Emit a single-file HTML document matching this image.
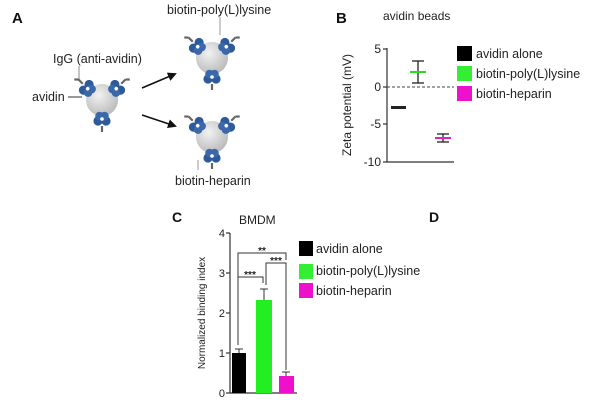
<!DOCTYPE html>
<html><head><style>
html,body{margin:0;padding:0;background:#fff;}
svg{display:block;font-family:"Liberation Sans",Arial,sans-serif;}
</style></head><body>
<svg width="600" height="400" viewBox="0 0 600 400" xmlns="http://www.w3.org/2000/svg">
<defs>
<radialGradient id="bg" cx="0.4" cy="0.35" r="0.7"><stop offset="0" stop-color="#f2f2f2"/><stop offset="1" stop-color="#b8b8b8"/></radialGradient>
<g id="av">
  <circle cx="-4" cy="-1" r="4.6" fill="#2f5a9a"/><circle cx="4" cy="-1" r="4.6" fill="#2f5a9a"/>
  <circle cx="-2.5" cy="4" r="4.3" fill="#3a68aa"/><circle cx="2.5" cy="4" r="4.3" fill="#3a68aa"/>
  <circle cx="0" cy="1" r="1.8" fill="#fff"/>
</g>
<g id="bead">
  <circle cx="0" cy="0" r="16" fill="url(#bg)"/>
  <g transform="translate(-15,-12) rotate(-45)"><use href="#av"/><line x1="0" y1="-6" x2="0" y2="-12" stroke="#666" stroke-width="2.2"/><line x1="0" y1="-12" x2="-3" y2="-15" stroke="#666" stroke-width="2.2"/></g>
  <g transform="translate(15,-12) rotate(45)"><use href="#av"/><line x1="0" y1="-6" x2="0" y2="-12" stroke="#666" stroke-width="2.2"/><line x1="0" y1="-12" x2="3" y2="-15" stroke="#666" stroke-width="2.2"/></g>
  <g transform="translate(0,20) rotate(180)"><use href="#av"/><line x1="0" y1="-6" x2="0" y2="-12" stroke="#666" stroke-width="2.2"/></g>
</g>
<marker id="ah" markerWidth="9" markerHeight="9" refX="7" refY="4.5" orient="auto" markerUnits="userSpaceOnUse"><path d="M0,0 L9,4.5 L0,9 z" fill="#111"/></marker>
</defs>

<!-- Panel A -->
<text x="12" y="23" font-size="15" font-weight="bold" fill="#111">A</text>
<text x="53" y="63" font-size="12.5" fill="#222">IgG (anti-avidin)</text>
<line x1="79" y1="66" x2="79" y2="80" stroke="#888" stroke-width="1"/>
<text x="32" y="101" font-size="12.5" fill="#222">avidin</text>
<line x1="68" y1="97" x2="82" y2="97" stroke="#333" stroke-width="1"/>
<use href="#bead" x="102" y="100"/>
<text x="167" y="14" font-size="12.5" fill="#222">biotin-poly(L)lysine</text>
<line x1="220" y1="17" x2="220" y2="35" stroke="#999" stroke-width="1"/>
<use href="#bead" x="212" y="58"/>
<use href="#bead" x="212" y="137"/>
<line x1="198" y1="160" x2="198" y2="170" stroke="#999" stroke-width="1"/>
<text x="175" y="185" font-size="12.5" fill="#222">biotin-heparin</text>
<line x1="142" y1="88" x2="175" y2="74" stroke="#111" stroke-width="1.6" marker-end="url(#ah)"/>
<line x1="142" y1="115" x2="175" y2="126" stroke="#111" stroke-width="1.6" marker-end="url(#ah)"/>

<!-- Panel B -->
<text x="336" y="23" font-size="15" font-weight="bold" fill="#111">B</text>
<text x="383" y="20" font-size="12" fill="#222">avidin beads</text>
<text transform="translate(351,105) rotate(-90)" text-anchor="middle" font-size="12" fill="#222">Zeta potential (mV)</text>
<g stroke="#333" stroke-width="1.2" fill="none">
<line x1="387" y1="48" x2="387" y2="162"/><line x1="387" y1="162" x2="454" y2="162"/>
<line x1="383" y1="49" x2="387" y2="49"/><line x1="383" y1="87" x2="387" y2="87"/><line x1="383" y1="124" x2="387" y2="124"/><line x1="383" y1="162" x2="387" y2="162"/>
</g>
<line x1="387" y1="87" x2="454" y2="87" stroke="#444" stroke-width="1" stroke-dasharray="3,2"/>
<g font-size="12" fill="#222" text-anchor="end">
<text x="381" y="53">5</text><text x="381" y="91">0</text><text x="381" y="128">-5</text><text x="381" y="166">-10</text></g>
<rect x="391" y="106" width="15" height="3" fill="#222"/>
<g stroke="#222" stroke-width="1.3"><line x1="418" y1="61" x2="418" y2="83"/><line x1="412" y1="61" x2="424" y2="61"/><line x1="412" y1="83" x2="424" y2="83"/></g>
<line x1="410" y1="72" x2="426" y2="72" stroke="#22dd22" stroke-width="2"/>
<g stroke="#222" stroke-width="1.3"><line x1="443" y1="134" x2="443" y2="142"/><line x1="437" y1="134" x2="449" y2="134"/><line x1="437" y1="142" x2="449" y2="142"/></g>
<line x1="435" y1="138" x2="451" y2="138" stroke="#e020c0" stroke-width="2"/>
<rect x="457" y="46" width="15" height="15" fill="#000"/>
<rect x="457" y="66" width="15" height="15" fill="#33ee33"/>
<rect x="457" y="86" width="15" height="15" fill="#ee11cc"/>
<g font-size="12.5" fill="#222"><text x="476" y="58">avidin alone</text><text x="476" y="78">biotin-poly(L)lysine</text><text x="476" y="98">biotin-heparin</text></g>

<!-- Panel C -->
<text x="172" y="222" font-size="14" font-weight="bold" fill="#111">C</text>
<text x="239" y="224" font-size="12" fill="#222">BMDM</text>
<text x="429" y="222" font-size="14" font-weight="bold" fill="#111">D</text>
<text transform="translate(205,313) rotate(-90)" text-anchor="middle" font-size="10" fill="#222">Normalized binding index</text>
<g stroke="#333" stroke-width="1.2">
<line x1="230" y1="233" x2="230" y2="393"/><line x1="230" y1="393" x2="297" y2="393"/>
<line x1="226" y1="233" x2="230" y2="233"/><line x1="226" y1="273" x2="230" y2="273"/><line x1="226" y1="313" x2="230" y2="313"/><line x1="226" y1="353" x2="230" y2="353"/><line x1="226" y1="393" x2="230" y2="393"/>
</g>
<g font-size="11" fill="#222" text-anchor="end"><text x="225" y="237">4</text><text x="225" y="277">3</text><text x="225" y="317">2</text><text x="225" y="357">1</text><text x="225" y="397">0</text></g>
<rect x="232" y="353" width="14" height="40" fill="#000"/>
<rect x="256" y="300" width="16" height="93" fill="#22ee22"/>
<rect x="279" y="376" width="15" height="17" fill="#ee11cc"/>
<g stroke="#333" stroke-width="1" fill="none">
<path d="M239 353 V349 M235 349 H243"/>
<path d="M264 300 V289 M260 289 H268"/>
<path d="M286 376 V372 M282 372 H290"/>
<path d="M238 345 V253 H286 V260"/>
<path d="M266 285 V263 H286 V370"/>
<path d="M238 300 V277 H263 V283"/>
</g>
<g font-size="10" fill="#222" font-weight="bold" text-anchor="middle">
<text x="262" y="254">**</text><text x="276" y="264">***</text><text x="250" y="278">***</text></g>
<rect x="299" y="241" width="14" height="15" fill="#000"/>
<rect x="299" y="264" width="14" height="15" fill="#33ee33"/>
<rect x="299" y="283" width="14" height="15" fill="#ee11cc"/>
<g font-size="12.5" fill="#222"><text x="316" y="253">avidin alone</text><text x="316" y="275">biotin-poly(L)lysine</text><text x="316" y="295">biotin-heparin</text></g>
</svg>
</body></html>
